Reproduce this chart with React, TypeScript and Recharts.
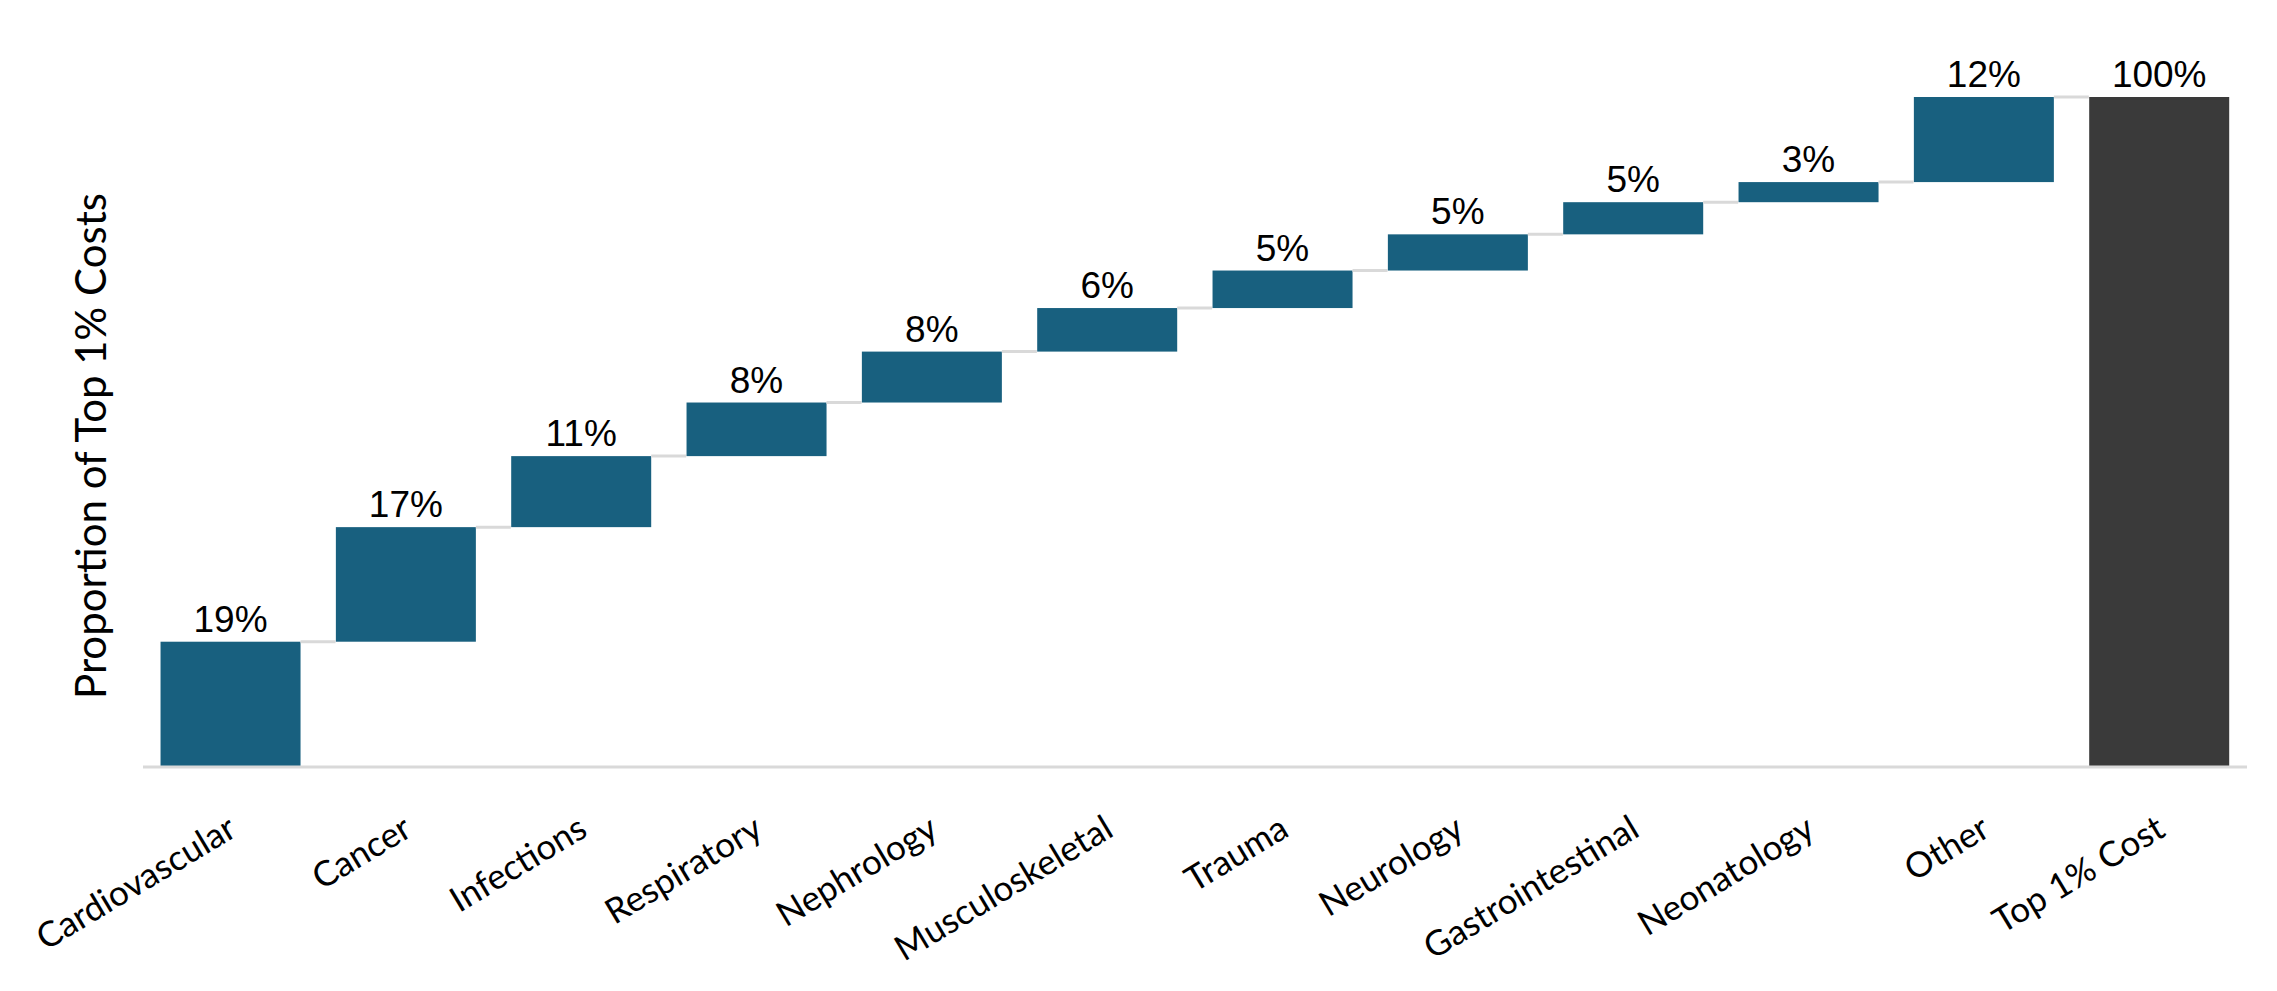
import { BarChart, Bar, XAxis, YAxis, LabelList } from 'recharts';

const categories = [
  'Cardiovascular',
  'Cancer',
  'Infections',
  'Respiratory',
  'Nephrology',
  'Musculoskeletal',
  'Trauma',
  'Neurology',
  'Gastrointestinal',
  'Neonatology',
  'Other',
];
const shares = [18.7, 17.1, 10.6, 8.0, 7.6, 6.5, 5.6, 5.4, 4.8, 3.0, 12.7];
const shareLabels = ['19%', '17%', '11%', '8%', '8%', '6%', '5%', '5%', '5%', '3%', '12%'];
const totalName = 'Top 1% Cost';
const totalValue = 100;
const totalLabel = '100%';

const STEP_COLOR = '#18607f';
const TOTAL_COLOR = '#3a3a3a';
const LINE_COLOR = '#d9d9d9';

// Waterfall: invisible base + visible step, total bar on the end
let running = 0;
const chartData = categories.map((name, i) => {
  const base = running;
  running += shares[i];
  return { name, base, value: shares[i], label: shareLabels[i], total: false };
});
chartData.push({ name: totalName, base: 0, value: totalValue, label: totalLabel, total: true });

function StepBar(props: any) {
  const { x, y, width, height, index, payload } = props;
  const last = index === chartData.length - 1;
  return (
    <g>
      <rect x={x} y={y} width={width} height={height} fill={payload.total ? TOTAL_COLOR : STEP_COLOR} />
      {!last && (
        // connector to the next bar; gap between bars is 25% of the bar width (10% category gap)
        <line x1={x + width} x2={x + width * 1.25} y1={y} y2={y} stroke={LINE_COLOR} strokeWidth={3} />
      )}
    </g>
  );
}

function CategoryTick({ x, y, payload }: any) {
  const tx = x + 8;
  const ty = y + 60;
  return (
    <text
      x={tx}
      y={ty}
      transform={`rotate(-31, ${tx}, ${ty})`}
      textAnchor="end"
      fontFamily="Lato"
      fontSize={35}
      fill="#000"
    >
      {payload.value}
    </text>
  );
}

function AxisTitle({ viewBox }: any) {
  const cx = viewBox.x + 82;
  const cy = viewBox.y + viewBox.height / 2 + 14;
  return (
    <text
      x={cx}
      y={cy}
      transform={`rotate(-90, ${cx}, ${cy})`}
      textAnchor="middle"
      dominantBaseline="central"
      fontFamily="Lato"
      fontSize={42}
      fill="#000"
    >
      Proportion of Top 1% Costs
    </text>
  );
}

export default function App() {
  return (
    <div style={{ width: 2261, height: 975, background: '#fff' }}>
      <BarChart
        width={2261}
        height={975}
        data={chartData}
        margin={{ top: 89, right: 22, left: 0, bottom: 0 }}
        barCategoryGap="10%"
      >
        <XAxis
          dataKey="name"
          interval={0}
          height={216}
          tickLine={false}
          axisLine={{ stroke: LINE_COLOR, strokeWidth: 3 }}
          tick={<CategoryTick />}
        />
        <YAxis
          width={135}
          domain={[0, 100]}
          tick={false}
          axisLine={false}
          tickLine={false}
          label={<AxisTitle />}
        />
        <Bar dataKey="base" stackId="w" fill="transparent" isAnimationActive={false} />
        <Bar dataKey="value" stackId="w" shape={<StepBar />} isAnimationActive={false}>
          <LabelList
            dataKey="label"
            position="top"
            offset={10}
            fontFamily="Liberation Sans"
            fontSize={37}
            fill="#000"
          />
        </Bar>
      </BarChart>
    </div>
  );
}
